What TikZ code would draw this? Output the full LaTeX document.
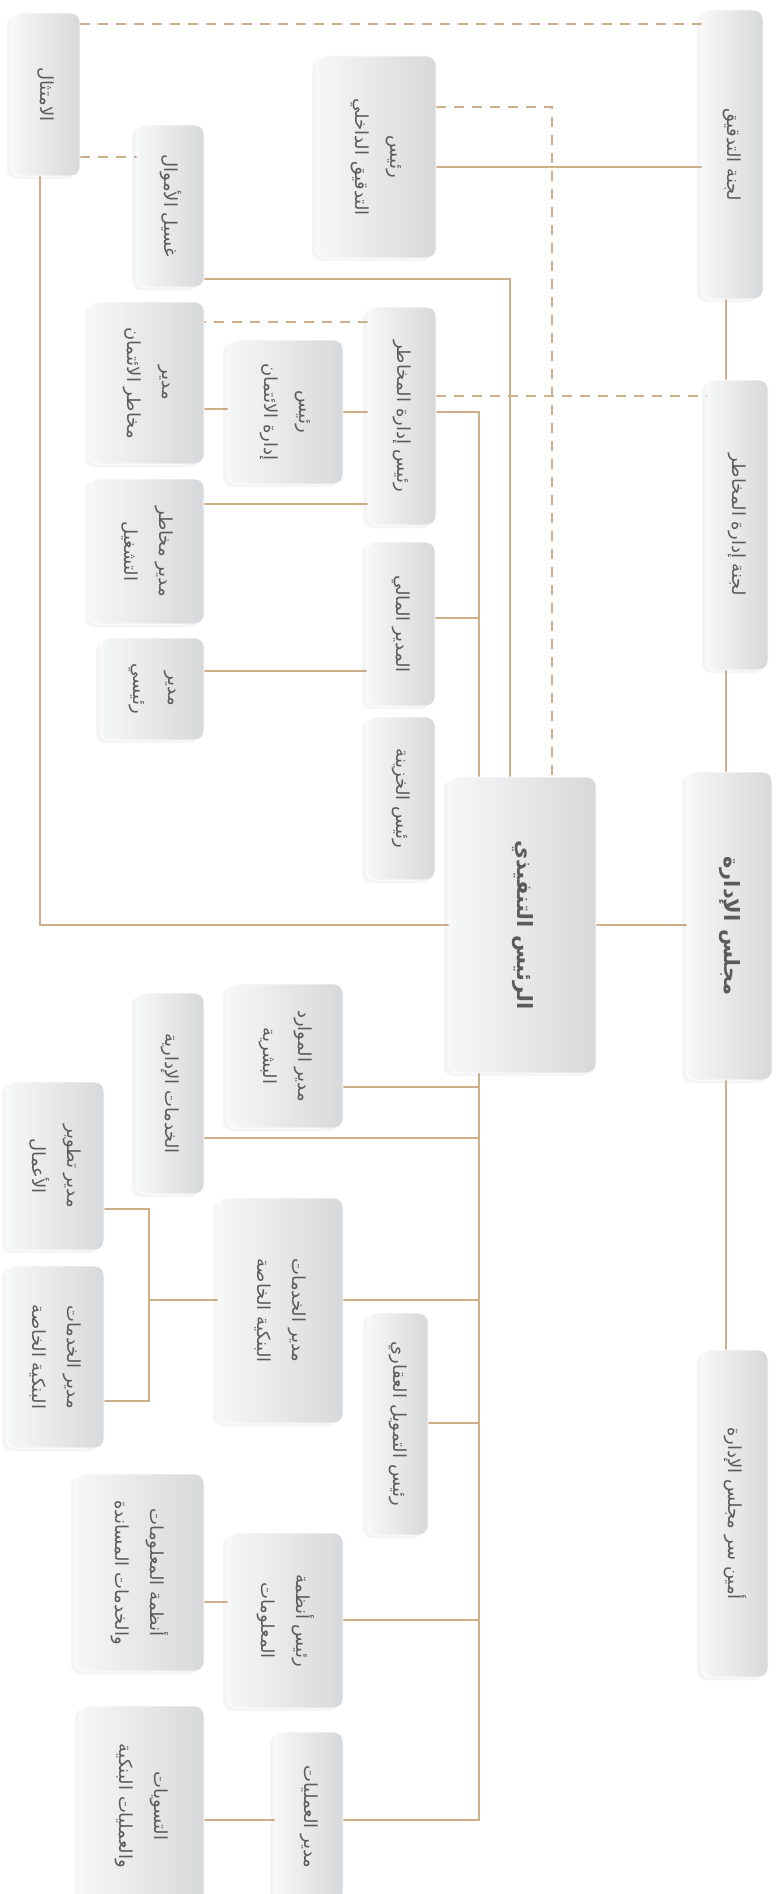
\documentclass[tikz,border=0pt]{standalone}
\usepackage{fontspec}
\usetikzlibrary{shadows,backgrounds}
\TeXXeTstate=1
\newfontfamily\arabicfont[Script=Arabic]{DejaVu Sans}
\definecolor{linec}{HTML}{CDB08A}
\definecolor{txtc}{HTML}{5A5B5D}
\definecolor{boxl}{HTML}{F6F7F7}
\definecolor{boxr}{HTML}{D7D8DA}
\newcommand\artxt[1]{\beginR #1\endR}
\tikzset{
  orgbox/.style={draw=white, line width=0.8pt, rounded corners=9pt, left color=boxl, right color=boxr,
    drop shadow={shadow xshift=-5pt, shadow yshift=-3pt, opacity=0.08}, inner sep=0pt},
  lbl/.style={rotate=-90, align=center, text=txtc, font=\arabicfont\fontsize{18}{35}\selectfont, inner sep=0pt},
  lblb/.style={lbl, font=\arabicfont\bfseries\fontsize{21}{30}\selectfont},
  conn/.style={draw=linec, line width=1.25pt},
  dconn/.style={conn, dash pattern=on 10pt off 8pt},
}
% name, x1, y1, x2, y2, text
\newcommand\orgnode[7][lbl]{%
  \node[orgbox, minimum width={(#5-#3)*1pt}, minimum height={(#6-#4)*1pt}] (#2) at ({(#3+#5)/2},{(#4+#6)/2}) {};
  \node[#1] (#2T) at (#2) {#7};}
\begin{document}
\begin{tikzpicture}[x=1pt,y=-1pt]
\useasboundingbox (0,0) rectangle (776,1894);
\clip (0,0) rectangle (776,1894);

\orgnode{compl}{12}{13}{80}{176}{\artxt{الامتثال}}
\orgnode{aml}{137}{125}{204}{287}{\artxt{غسيل الأموال}}
\orgnode{iaudit}{317}{56}{436}{258}{\artxt{رئيس}\\\artxt{التدقيق الداخلي}}
\orgnode{audc}{702}{10}{763}{299}{\artxt{لجنة التدقيق}}
\orgnode{riskc}{707}{380}{768}{670}{\artxt{لجنة إدارة المخاطر}}
\orgnode[lblb]{board}{687}{772}{772}{1080}{\artxt{مجلس الإدارة}}
\orgnode{sec}{702}{1350}{768}{1677}{\artxt{أمين سر مجلس الإدارة}}
\orgnode[lblb]{ceo}{449}{777}{596}{1073}{\artxt{الرئيس التنفيذي}}
\orgnode{riskh}{368}{307}{436}{525}{\artxt{رئيس إدارة المخاطر}}
\orgnode{credh}{228}{340}{343}{484}{\artxt{رئيس}\\\artxt{إدارة الائتمان}}
\orgnode{credr}{90}{302}{204}{464}{\artxt{مدير}\\\artxt{مخاطر الائتمان}}
\orgnode{opr}{90}{479}{204}{624}{\artxt{مدير مخاطر}\\\artxt{التشغيل}}
\orgnode{senior}{101}{638}{204}{740}{\artxt{مدير}\\\artxt{رئيسي}}
\orgnode{cfo}{367}{542}{435}{706}{\artxt{المدير المالي}}
\orgnode{treas}{367}{717}{435}{880}{\artxt{رئيس الخزينة}}
\orgnode{hr}{228}{984}{343}{1128}{\artxt{مدير الموارد}\\\artxt{البشرية}}
\orgnode{admin}{137}{993}{204}{1194}{\artxt{الخدمات الإدارية}}
\orgnode{bizdev}{7}{1082}{104}{1250}{\artxt{مدير تطوير}\\\artxt{الأعمال}}
\orgnode{pbb}{7}{1266}{104}{1448}{\artxt{مدير الخدمات}\\\artxt{البنكية الخاصة}}
\orgnode{pb}{218}{1198}{343}{1423}{\artxt{مدير الخدمات}\\\artxt{البنكية الخاصة}}
\orgnode{mort}{368}{1313}{428}{1535}{\artxt{رئيس التمويل العقاري}}
\orgnode{iss}{76}{1474}{204}{1671}{\artxt{أنظمة المعلومات}\\\artxt{والخدمات المساندة}}
\orgnode{ish}{228}{1533}{343}{1708}{\artxt{رئيس أنظمة}\\\artxt{المعلومات}}
\orgnode{settle}{80}{1706}{204}{1906}{\artxt{التسويات}\\\artxt{والعمليات البنكية}}
\orgnode{ops}{275}{1732}{343}{1902}{\artxt{مدير العمليات}}

\coordinate (spR) at (726,0);
\coordinate (spC) at (479,0);
\coordinate (spA) at (510,0);
\coordinate (spD) at (552,0);
\coordinate (spL) at (40,0);
\coordinate (brk) at (149,0);
\coordinate (yAud) at (0,167);
\coordinate (yAml) at (0,279);
\coordinate (yRh) at (0,412);
\coordinate (yCr) at (0,409);
\coordinate (yOp) at (0,504);
\coordinate (yCfo) at (0,618);
\coordinate (ySn) at (0,671);
\coordinate (yHr) at (0,1087);
\coordinate (yAd) at (0,1138);
\coordinate (yPb) at (0,1300);
\coordinate (yB1) at (0,1209);
\coordinate (yB2) at (0,1401);
\coordinate (yMo) at (0,1423);
\coordinate (yIs) at (0,1620);
\coordinate (yIs2) at (0,1602);
\coordinate (yOps) at (0,1820);
\coordinate (yD1) at (0,24);
\coordinate (yD2) at (0,157);
\coordinate (yD3) at (0,107);
\coordinate (yD4) at (0,396);
\coordinate (yD5) at (0,322);

\begin{scope}[on background layer]
\fill[white] (0,0) rectangle (776,1894);
\draw[conn] (audc.south -| spR) -- (riskc.north -| spR);
\draw[conn] (riskc.south -| spR) -- (board.north -| spR);
\draw[conn] (board.south -| spR) -- (sec.north -| spR);
\draw[conn] (ceo.east) -- (board.west |- ceo.east);
\draw[conn] (compl.south -| spL) |- (ceo.west);
\draw[conn] (iaudit.east |- yAud) -- (audc.west |- yAud);
\draw[conn] (aml.east |- yAml) -| (ceo.north -| spA);
\draw[conn] (riskh.east |- yRh) -| (ceo.north -| spC);
\draw[conn] (cfo.east |- yCfo) -- (spC |- yCfo);
\draw[conn] (credr.east |- yCr) -- (credh.west |- yCr);
\draw[conn] (credh.east |- yRh) -- (riskh.west |- yRh);
\draw[conn] (opr.east |- yOp) -- (riskh.west |- yOp);
\draw[conn] (senior.east |- ySn) -- (cfo.west |- ySn);
\draw[conn] (ceo.south -| spC) |- (ops.east |- yOps);
\draw[conn] (hr.east |- yHr) -- (spC |- yHr);
\draw[conn] (admin.east |- yAd) -- (spC |- yAd);
\draw[conn] (pb.east |- yPb) -- (spC |- yPb);
\draw[conn] (mort.east |- yMo) -- (spC |- yMo);
\draw[conn] (ish.east |- yIs) -- (spC |- yIs);
\draw[conn] (ish.west |- yIs2) -- (iss.east |- yIs2);
\draw[conn] (ops.west |- yOps) -- (settle.east |- yOps);
\draw[conn] (pb.west |- yPb) -- (brk |- yPb);
\draw[conn] (bizdev.east |- yB1) -- (brk |- yB1) -- (brk |- yB2) -- (pbb.east |- yB2);
\draw[dconn] (compl.east |- yD1) -- (audc.west |- yD1);
\draw[dconn] (compl.east |- yD2) -- (aml.west |- yD2);
\draw[dconn] (iaudit.east |- yD3) -| (ceo.north -| spD);
\draw[dconn] (riskh.east |- yD4) -- (riskc.west |- yD4);
\draw[dconn] (riskh.west |- yD5) -- (credr.east |- yD5);
\end{scope}
\end{tikzpicture}
\end{document}
